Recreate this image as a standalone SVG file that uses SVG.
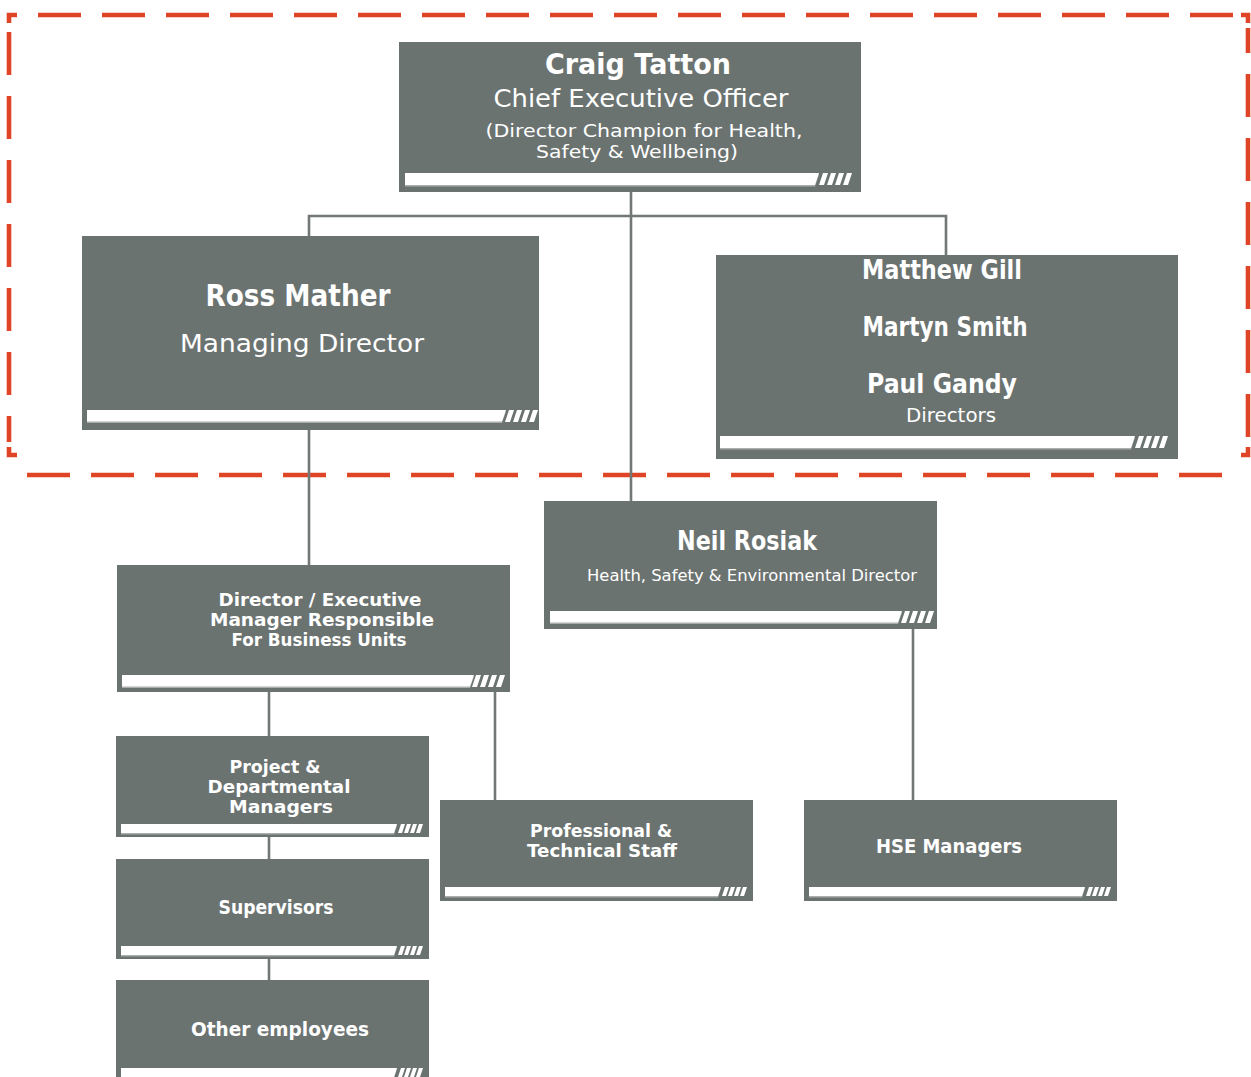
<svg xmlns="http://www.w3.org/2000/svg" xmlns:xlink="http://www.w3.org/1999/xlink" width="1251" height="1077" viewBox="0 0 1251 1077">
<style>
.box{fill:#6B7371}
.bar{fill:#ffffff}
.sh{fill:#a9aeac}
.t{font-family:"DejaVu Sans","Liberation Sans",sans-serif;fill:#ffffff;text-anchor:middle}
.b{font-weight:bold}
.r{font-weight:normal}
.con{stroke:#717876;stroke-width:2.6;fill:none}
.dash{stroke:#E04427;stroke-width:4.6;fill:none}
</style>
<defs>
<g id="sl12">
<polygon points="4,0 9,0 5,12 0,12"/>
<polygon points="12,0 17,0 13,12 8,12"/>
<polygon points="20,0 25,0 21,12 16,12"/>
<polygon points="28,0 33,0 29,12 24,12"/>
</g>
<g id="sl9">
<polygon points="3,0 7,0 4,9 0,9"/>
<polygon points="9,0 13,0 10,9 6,9"/>
<polygon points="15,0 19,0 16,9 12,9"/>
<polygon points="21,0 25,0 22,9 18,9"/>
</g>
</defs>

<g id="frame">
<path class="dash" d="M38,15 H1233" stroke-dasharray="43 21"/>
<path class="dash" d="M9,23 V15 H17"/>
<path class="dash" d="M1241,15 H1248 V23"/>
<path class="dash" d="M9,32 V442" stroke-dasharray="43 21"/>
<path class="dash" d="M1248,28 V442" stroke-dasharray="43 21" stroke-dashoffset="18"/>
<path class="dash" d="M9,447 V455 H17"/>
<path class="dash" d="M1248,447 V455 H1241"/>
<path class="dash" d="M27,475 H1222" stroke-dasharray="43 21"/>
</g>

<g id="connectors">
<path class="con" d="M631,192 V501"/>
<path class="con" d="M309,236 V216 H946 V255"/>
<path class="con" d="M309,430 V565"/>
<path class="con" d="M269,692 V736"/>
<path class="con" d="M495,692 V800"/>
<path class="con" d="M269,837 V859"/>
<path class="con" d="M269,959 V980"/>
<path class="con" d="M913,629 V800"/>
</g>

<g id="ceo">
<rect class="box" x="399" y="42" width="462" height="150"/>
<polygon class="sh" points="405,174.5 819,174.5 815,186.5 405,186.5"/>
<polygon class="bar" points="405,173 819,173 815,185 405,185"/>
<use href="#sl12" x="819" y="173" fill="#fff"/>
<text class="t b" x="638" y="74" font-size="29" textLength="186" lengthAdjust="spacingAndGlyphs">Craig Tatton</text>
<text class="t r" x="641" y="107" font-size="24" textLength="295" lengthAdjust="spacingAndGlyphs">Chief Executive Officer</text>
<text class="t r" x="644" y="137" font-size="18" textLength="317" lengthAdjust="spacingAndGlyphs">(Director Champion for Health,</text>
<text class="t r" x="637" y="158" font-size="18" textLength="202" lengthAdjust="spacingAndGlyphs">Safety &amp; Wellbeing)</text>
</g>

<g id="ross">
<rect class="box" x="82" y="236" width="457" height="194"/>
<polygon class="sh" points="87,411.5 506,411.5 502,423 87,423"/>
<polygon class="bar" points="87,410 506,410 502,421.5 87,421.5"/>
<use href="#sl12" x="505" y="410" fill="#fff"/>
<text class="t b" x="298" y="306" font-size="30" textLength="185" lengthAdjust="spacingAndGlyphs">Ross Mather</text>
<text class="t r" x="302" y="352" font-size="25" textLength="244" lengthAdjust="spacingAndGlyphs">Managing Director</text>
</g>

<g id="directors">
<rect class="box" x="716" y="255" width="462" height="204"/>
<polygon class="sh" points="720,437.5 1135,437.5 1131,449.5 720,449.5"/>
<polygon class="bar" points="720,436 1135,436 1131,448 720,448"/>
<use href="#sl12" x="1135" y="436" fill="#fff"/>
<text class="t b" x="942" y="279" font-size="26" textLength="160" lengthAdjust="spacingAndGlyphs">Matthew Gill</text>
<text class="t b" x="945" y="336" font-size="26" textLength="165" lengthAdjust="spacingAndGlyphs">Martyn Smith</text>
<text class="t b" x="942" y="393" font-size="26" textLength="150" lengthAdjust="spacingAndGlyphs">Paul Gandy</text>
<text class="t r" x="951" y="422" font-size="20" textLength="90" lengthAdjust="spacingAndGlyphs">Directors</text>
</g>

<g id="neil">
<rect class="box" x="544" y="501" width="393" height="128"/>
<polygon class="sh" points="550,612.5 902,612.5 898,624 550,624"/>
<polygon class="bar" points="550,611 902,611 898,622.5 550,622.5"/>
<use href="#sl12" x="901" y="611" fill="#fff"/>
<text class="t b" x="747" y="550" font-size="26" textLength="140" lengthAdjust="spacingAndGlyphs">Neil Rosiak</text>
<text class="t r" x="752" y="581" font-size="16.5" textLength="330" lengthAdjust="spacingAndGlyphs">Health, Safety &amp; Environmental Director</text>
</g>

<g id="execmgr">
<rect class="box" x="117" y="565" width="393" height="127"/>
<polygon class="sh" points="122,676.5 474,676.5 470,688 122,688"/>
<polygon class="bar" points="122,675 474,675 470,686.5 122,686.5"/>
<use href="#sl12" x="472" y="675" fill="#fff"/>
<text class="t b" x="320" y="606" font-size="18" textLength="203" lengthAdjust="spacingAndGlyphs">Director / Executive</text>
<text class="t b" x="322" y="626" font-size="18" textLength="224" lengthAdjust="spacingAndGlyphs">Manager Responsible</text>
<text class="t b" x="319" y="646" font-size="18" textLength="175" lengthAdjust="spacingAndGlyphs">For Business Units</text>
</g>

<g id="project">
<rect class="box" x="116" y="736" width="313" height="101"/>
<polygon class="sh" points="121,825 397,825 394,834.5 121,834.5"/>
<polygon class="bar" points="121,824 397,824 394,833 121,833"/>
<use href="#sl9" x="398" y="824" fill="#fff"/>
<text class="t b" x="275" y="773" font-size="18" textLength="91" lengthAdjust="spacingAndGlyphs">Project &amp;</text>
<text class="t b" x="279" y="793" font-size="18" textLength="143" lengthAdjust="spacingAndGlyphs">Departmental</text>
<text class="t b" x="281" y="813" font-size="18" textLength="104" lengthAdjust="spacingAndGlyphs">Managers</text>
</g>

<g id="supervisors">
<rect class="box" x="116" y="859" width="313" height="100"/>
<polygon class="sh" points="121,947 397,947 394,956.5 121,956.5"/>
<polygon class="bar" points="121,946 397,946 394,955 121,955"/>
<use href="#sl9" x="398" y="946" fill="#fff"/>
<text class="t b" x="276" y="914" font-size="20" textLength="115" lengthAdjust="spacingAndGlyphs">Supervisors</text>
</g>

<g id="other">
<rect class="box" x="116" y="980" width="313" height="97"/>
<polygon class="sh" points="121,1069 397,1069 394,1078.5 121,1078.5"/>
<polygon class="bar" points="121,1068 397,1068 394,1077 121,1077"/>
<use href="#sl9" x="398" y="1068" fill="#fff"/>
<text class="t b" x="280" y="1036" font-size="20" textLength="178" lengthAdjust="spacingAndGlyphs">Other employees</text>
</g>

<g id="professional">
<rect class="box" x="440" y="800" width="313" height="101"/>
<polygon class="sh" points="445,888 721,888 718,897.5 445,897.5"/>
<polygon class="bar" points="445,887 721,887 718,896 445,896"/>
<use href="#sl9" x="722" y="887" fill="#fff"/>
<text class="t b" x="601" y="837" font-size="18" textLength="142" lengthAdjust="spacingAndGlyphs">Professional &amp;</text>
<text class="t b" x="602" y="857" font-size="18" textLength="150" lengthAdjust="spacingAndGlyphs">Technical Staff</text>
</g>

<g id="hse">
<rect class="box" x="804" y="800" width="313" height="101"/>
<polygon class="sh" points="809,888 1085,888 1082,897.5 809,897.5"/>
<polygon class="bar" points="809,887 1085,887 1082,896 809,896"/>
<use href="#sl9" x="1086" y="887" fill="#fff"/>
<text class="t b" x="949" y="853" font-size="20" textLength="146" lengthAdjust="spacingAndGlyphs">HSE Managers</text>
</g>
</svg>
